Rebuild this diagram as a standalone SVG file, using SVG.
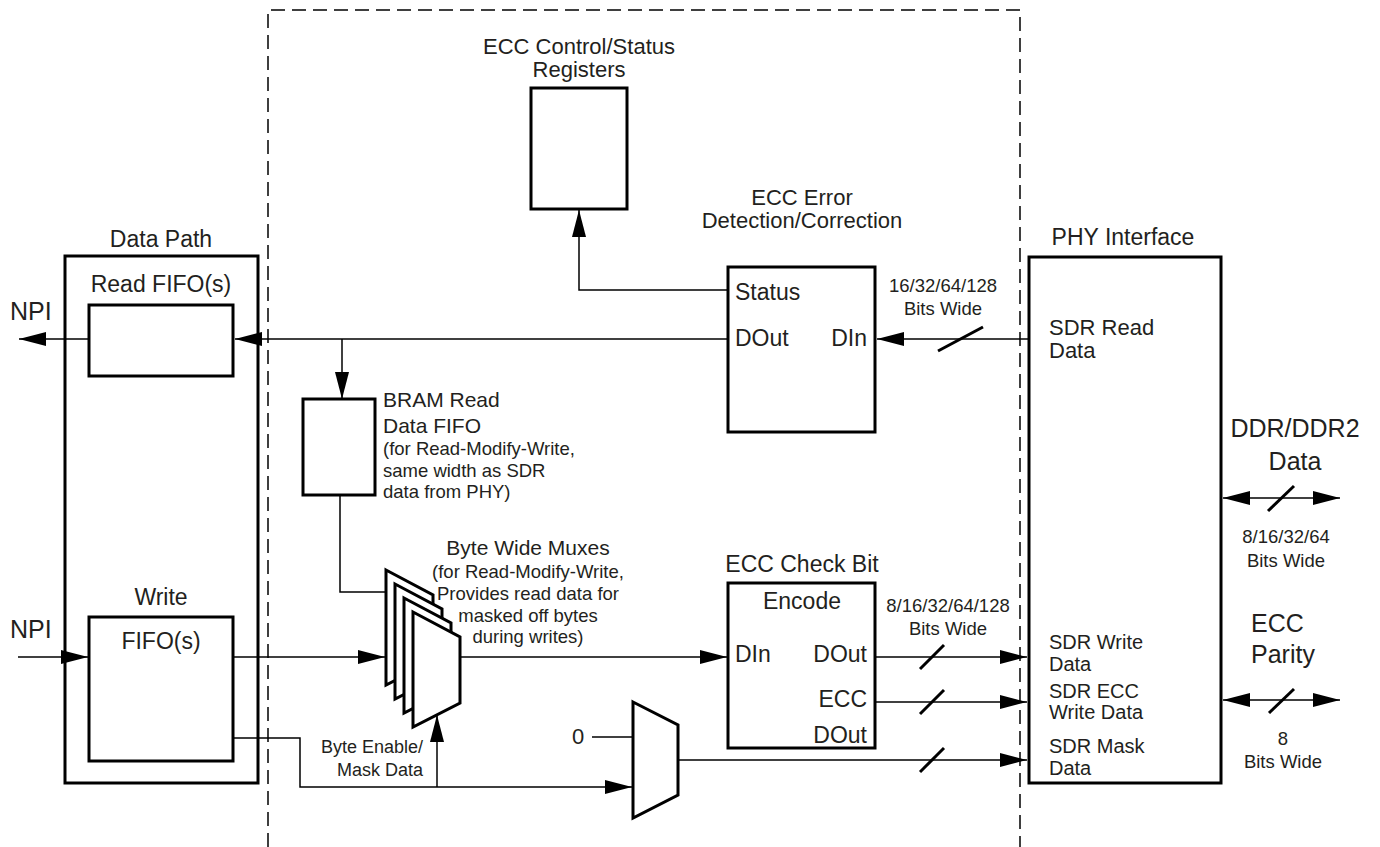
<svg xmlns="http://www.w3.org/2000/svg" width="1380" height="847" viewBox="0 0 1380 847">
<defs>
<marker id="ah" markerWidth="27" markerHeight="14" refX="27" refY="7" orient="auto-start-reverse" markerUnits="userSpaceOnUse"><path d="M0,0 L27,7 L0,14 z" fill="#000"/></marker>
<style>
text{font-family:"Liberation Sans",Arial,Helvetica,sans-serif;fill:#231f20}
.m{font-size:23px}
.n{font-size:22px}
.l{font-size:25px}
.s{font-size:18.5px}
.p{font-size:20px}
.c{text-anchor:middle}
.e{text-anchor:end}
.box{fill:#fff;stroke:#000;stroke-width:3}
.frame{fill:none;stroke:#000;stroke-width:3}
.w{fill:none;stroke:#000;stroke-width:1.5}
.a{fill:none;stroke:#000;stroke-width:1.5;marker-end:url(#ah)}
.b{fill:none;stroke:#000;stroke-width:1.5;marker-start:url(#ah);marker-end:url(#ah)}
.sl{stroke:#000;stroke-width:3}
.dash{fill:none;stroke:#000;stroke-width:1.5;stroke-dasharray:14 7}
</style>
</defs>
<rect width="1380" height="847" fill="#fff"/>
<g id="boundary">
<path class="dash" d="M268,847 V10 H1020 V847"/>
</g>
<g id="data-path">
<rect class="frame" x="65" y="256" width="193" height="527"/>
<text class="m c" x="161" y="247">Data Path</text>
<text class="l" x="10" y="320">NPI</text>
<text class="l" x="10" y="638">NPI</text>
</g>
<g id="read-fifo">
<text class="m c" x="161" y="292">Read FIFO(s)</text>
<rect class="box" x="89" y="305" width="144" height="71"/>
</g>
<g id="write-fifo">
<text class="m c" x="161" y="605">Write</text>
<rect class="box" x="89" y="617" width="144" height="144"/>
<text class="m c" x="161" y="649">FIFO(s)</text>
</g>
<g id="ecc-registers">
<text class="n c" x="579" y="54">ECC Control/Status</text>
<text class="n c" x="579" y="77">Registers</text>
<rect class="box" x="531" y="88" width="96" height="121"/>
</g>
<g id="ecc-error">
<text class="n c" x="802" y="205">ECC Error</text>
<text class="n c" x="802" y="228">Detection/Correction</text>
<rect class="box" x="728" y="267" width="147" height="165"/>
<text class="m" x="735" y="300">Status</text>
<text class="m" x="735" y="346">DOut</text>
<text class="m e" x="867" y="346">DIn</text>
<text class="s c" x="943" y="292">16/32/64/128</text>
<text class="s c" x="943" y="315">Bits Wide</text>
</g>
<g id="bram-fifo">
<rect class="box" x="303" y="399" width="72" height="96"/>
<text x="383" y="407" style="font-size:21px">BRAM Read</text>
<text x="383" y="433" style="font-size:21px">Data FIFO</text>
<text class="s" x="383" y="455">(for Read-Modify-Write,</text>
<text class="s" x="383" y="477">same width as SDR</text>
<text class="s" x="383" y="498">data from PHY)</text>
</g>
<g id="byte-muxes">
<polygon class="box" points="386,570 433,595 433,661 386,685"/>
<polygon class="box" points="395,584 442,609 442,675 395,699"/>
<polygon class="box" points="404,598 451,623 451,689 404,713"/>
<polygon class="box" points="413,612 460,637 460,703 413,727"/>
<text class="c" x="528" y="555" style="font-size:21px">Byte Wide Muxes</text>
<text class="s c" x="528" y="578">(for Read-Modify-Write,</text>
<text class="s c" x="528" y="600">Provides read data for</text>
<text class="s c" x="528" y="622">masked off bytes</text>
<text class="s c" x="528" y="643">during writes)</text>
<text class="e" x="423" y="753" style="font-size:18px">Byte Enable/</text>
<text class="e" x="423" y="776" style="font-size:18px">Mask Data</text>
</g>
<g id="mask-mux">
<polygon class="box" points="633,702 678,725 678,795 633,818"/>
<text x="572" y="744" style="font-size:22px">0</text>
</g>
<g id="ecc-check">
<text class="m c" x="802" y="572">ECC Check Bit</text>
<rect class="box" x="728" y="583" width="147" height="165"/>
<text class="m c" x="802" y="609">Encode</text>
<text class="m" x="735" y="662">DIn</text>
<text class="m e" x="867" y="662">DOut</text>
<text class="m e" x="867" y="707">ECC</text>
<text class="m e" x="867" y="743">DOut</text>
<text class="s c" x="948" y="612">8/16/32/64/128</text>
<text class="s c" x="948" y="635">Bits Wide</text>
</g>
<g id="phy">
<text class="m c" x="1123" y="245">PHY Interface</text>
<rect class="box" x="1029" y="257" width="192" height="526"/>
<text class="n" x="1049" y="335">SDR Read</text>
<text class="n" x="1049" y="358">Data</text>
<text class="p" x="1049" y="649">SDR Write</text>
<text class="p" x="1049" y="671">Data</text>
<text class="p" x="1049" y="698">SDR ECC</text>
<text class="p" x="1049" y="719">Write Data</text>
<text class="p" x="1049" y="753">SDR Mask</text>
<text class="p" x="1049" y="775">Data</text>
</g>
<g id="ddr-data">
<text class="l c" x="1295" y="437">DDR/DDR2</text>
<text class="l c" x="1295" y="470">Data</text>
<text class="s c" x="1286" y="543">8/16/32/64</text>
<text class="s c" x="1286" y="567">Bits Wide</text>
</g>
<g id="ecc-parity">
<text class="l" x="1251" y="632">ECC</text>
<text class="l" x="1251" y="663">Parity</text>
<text class="s c" x="1283" y="745">8</text>
<text class="s c" x="1283" y="768">Bits Wide</text>
</g>
<g id="connectors">
<path class="a" d="M728,290 H579 V210"/>
<path class="a" d="M728,339 H235"/>
<path class="a" d="M342,339 V399"/>
<path class="a" d="M89,339 H19"/>
<path class="a" d="M1029,339 H877"/>
<path class="w" d="M340,495 V592 H387"/>
<path class="a" d="M18,657 H88"/>
<path class="a" d="M233,657 H385"/>
<path class="a" d="M233,738 H300 V787 H632"/>
<path class="a" d="M437,787 V715"/>
<path class="a" d="M460,657 H727"/>
<path class="a" d="M875,657 H1027"/>
<path class="a" d="M875,702 H1027"/>
<path class="a" d="M678,760 H1027"/>
<path class="w" d="M592,737 H633"/>
<path class="b" d="M1223,498 H1340"/>
<path class="b" d="M1223,700 H1340"/>
<line class="sl" x1="938" y1="351" x2="983" y2="327"/>
<line class="sl" x1="920" y1="669" x2="944" y2="645"/>
<line class="sl" x1="920" y1="714" x2="944" y2="690"/>
<line class="sl" x1="920" y1="772" x2="944" y2="748"/>
<line class="sl" x1="1268" y1="511" x2="1294" y2="486"/>
<line class="sl" x1="1269" y1="713" x2="1294" y2="689"/>
</g>
</svg>
